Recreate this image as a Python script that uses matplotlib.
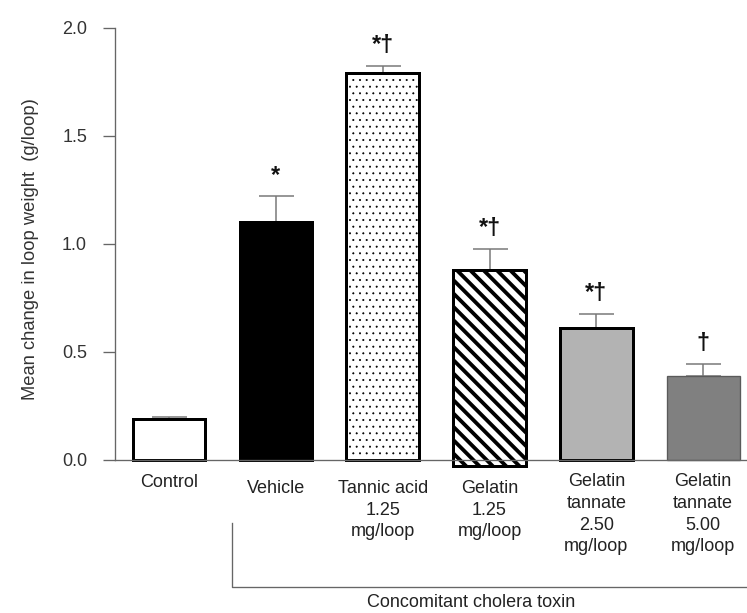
import numpy as np
import matplotlib as mpl
import matplotlib.pyplot as plt

plt.rcParams['font.family'] = ['Liberation Sans', 'DejaVu Sans']

groups = ['Control', 'Vehicle', 'Tannic acid\n1.25\nmg/loop', 'Gelatin\n1.25\nmg/loop',
          'Gelatin\ntannate\n2.50\nmg/loop', 'Gelatin\ntannate\n5.00\nmg/loop']
means = [0.19, 1.10, 1.79, 0.88, 0.61, 0.39]
sem = [0.01, 0.12, 0.035, 0.095, 0.065, 0.055]
marks = ['', '*', '*\u2020', '*\u2020', '*\u2020', '\u2020']
yticks = [0.0, 0.5, 1.0, 1.5, 2.0]

# bar looks: fill, edge, edge width, hatch, hatch width, bottom
looks = [
    ('white', 'black', 1.8, None, 1.0, 0.0),
    ('black', 'black', 1.8, None, 1.0, 0.0),
    ('white', 'black', 1.8, '...', 0.4, 0.0),
    ('white', 'black', 1.8, '\\\\\\', 2.3, -0.03),
    ('#b3b3b3', 'black', 1.8, None, 1.0, 0.0),
    ('#808080', '#5a5a5a', 0.8, None, 1.0, 0.0),
]

fig = plt.figure(figsize=(747 / 120, 613 / 120), dpi=120)
ax = fig.add_axes([115 / 747, 153 / 613, 632 / 747, 432 / 613])

x = np.arange(len(groups))
ax.errorbar(x, means, yerr=[np.zeros(len(x)), sem], fmt='none', ecolor='#777777',
            elinewidth=0.9, capsize=10.5, capthick=0.9, zorder=1)

for xi, m, (fc, ec, lw, hatch, hlw, bottom) in zip(x, means, looks):
    with plt.rc_context({'hatch.linewidth': hlw}):
        ax.bar(xi, m - bottom, bottom=bottom, width=0.68, facecolor=fc, edgecolor=ec,
               linewidth=lw, hatch=hatch, zorder=2, clip_on=False)

for xi, m, s, t in zip(x, means, sem, marks):
    if t:
        ax.text(xi, m + s + 0.095, t, ha='center', va='center', fontsize=14,
                fontweight='bold', color='#111111')

ax.set_xlim(-0.506, 5.41)
ax.set_ylim(0, 2.0)
ax.set_yticks(yticks)
ax.set_yticklabels(['%.1f' % v for v in yticks])
ax.set_xticks(x)
ax.set_xticklabels(groups, fontsize=10.8, color='#222222', linespacing=1.36)
ax.tick_params(axis='x', length=0)
ax.tick_params(axis='y', length=7.2, width=0.8, color='#666666', pad=9.6,
               labelsize=10.8, labelcolor='#333333')
for tick, p in zip(ax.xaxis.get_major_ticks(), [8.4, 12, 12, 12, 8, 8]):
    tick.set_pad(p)

for side in ['top', 'right']:
    ax.spines[side].set_visible(False)
for side in ['left', 'bottom']:
    ax.spines[side].set_color('#666666')
    ax.spines[side].set_linewidth(0.8)

ax.set_ylabel('Mean change in loop weight  (g/loop)', fontsize=11, color='#333333')
ax.yaxis.set_label_coords(-0.12, 0.488)

# bracket under the cholera toxin groups
ax.plot([0.59, 0.59, 5.41], [-0.292, -0.588, -0.588], color='#666666', lw=0.8,
        clip_on=False)
ax.text(2.83, -0.662, 'Concomitant cholera toxin', ha='center', va='center',
        fontsize=10.8, color='#222222')

fig.savefig('out.png', dpi=120)
